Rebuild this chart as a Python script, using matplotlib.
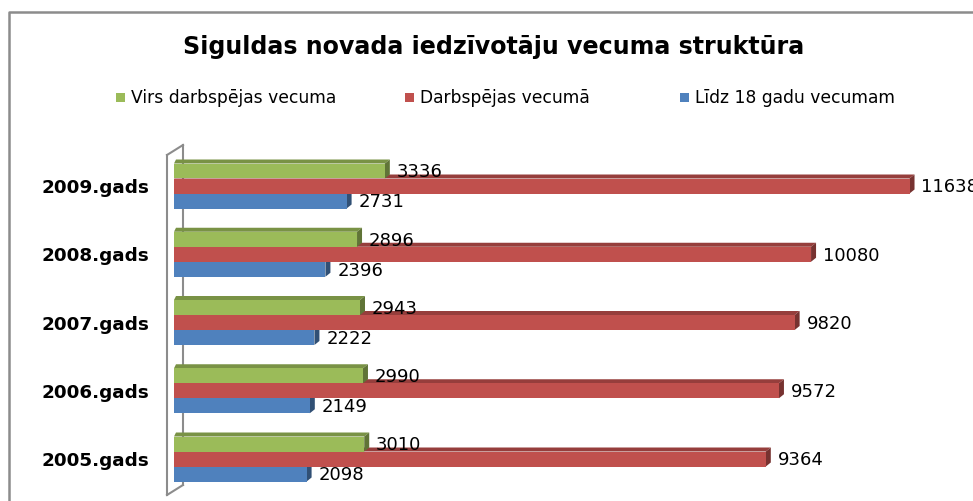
import matplotlib

matplotlib.use("Agg")
import matplotlib.pyplot as plt
import numpy as np
from matplotlib.patches import Polygon, Rectangle

# ── data ─────────────────────────────────────────────────────────────────────
years = ["2005.gads", "2006.gads", "2007.gads", "2008.gads", "2009.gads"]
virs_darbspejas = [3010, 2990, 2943, 2896, 3336]
darbspejas = [9364, 9572, 9820, 10080, 11638]
lidz_18 = [2098, 2149, 2222, 2396, 2731]

series_names = ["Virs darbspējas vecuma", "Darbspējas vecumā", "Līdz 18 gadu vecumam"]
series_colors = ["#9BBB59", "#C0504D", "#4F81BD"]

title = "Siguldas novada iedzīvotāju vecuma struktūra"

# ── layout (pixel based, figure is 973x501) ──────────────────────────────────
W, H = 973, 501
X0 = 174            # pixel where value 0 sits
PX_PER_UNIT = 0.0632
ROW_PX = 68.25      # distance between category centres
Y_REF = 459         # pixel y of first category centre
BAR_PX = 15
DX_PX, DY_PX = 5, 4

fig = plt.figure(figsize=(W / 100, H / 100), dpi=100)
fig.patch.set_facecolor("white")
renderer = fig.canvas.get_renderer()


def fit_width(txt, target_px):
    """Rescale a text's font size so its drawn width matches target_px."""
    w = txt.get_window_extent(renderer).width
    txt.set_fontsize(txt.get_fontsize() * target_px / w)


ax_top_px = 130
ax = fig.add_axes([X0 / W, 0, (W - X0) / W, (H - ax_top_px) / H])
ax.set_xlim(0, (W - X0) / PX_PER_UNIT)
ax.set_ylim((Y_REF - H) / ROW_PX, (Y_REF - ax_top_px) / ROW_PX)
for s in ax.spines.values():
    s.set_visible(False)
ax.set_xticks([])
ax.set_yticks([])
ax.patch.set_alpha(0)

bh = BAR_PX / ROW_PX
dx = DX_PX / PX_PER_UNIT
dy = DY_PX / ROW_PX


def shade(c, f):
    rgb = np.array(matplotlib.colors.to_rgb(c))
    return tuple(rgb * f)


def bar3d(y, w, color, z):
    y0, y1 = y - bh / 2, y + bh / 2
    front = Polygon([(0, y0), (w, y0), (w, y1), (0, y1)], closed=True,
                    facecolor=color, edgecolor="none", zorder=z)
    top = Polygon([(0, y1), (w, y1), (w + dx, y1 + dy), (dx * 0.4, y1 + dy)],
                  closed=True, facecolor=shade(color, 0.78), edgecolor="none", zorder=z)
    side = Polygon([(w, y0), (w + dx, y0 + dy), (w + dx, y1 + dy), (w, y1)],
                   closed=True, facecolor=shade(color, 0.62), edgecolor="none", zorder=z)
    for p in (top, side, front):
        ax.add_patch(p)
    ax.annotate(f"{w}", xy=(w + dx, y), xytext=(5, -1),
                textcoords="offset points", ha="left", va="center",
                fontsize=13, family="DejaVu Sans", color="black",
                zorder=z + 0.5, annotation_clip=False)


ypos = np.arange(len(years))
values = [virs_darbspejas, darbspejas, lidz_18]
offsets = [bh, 0, -bh]
for i in ypos:
    # draw bottom bar first so upper bars cover their top faces
    for k, z in ((2, 3), (1, 4), (0, 5)):
        bar3d(i + offsets[k], values[k][i], series_colors[k], z)

# ── decoration overlay in pixel coords ───────────────────────────────────────
ov = fig.add_axes([0, 0, 1, 1], zorder=-1)
ov.set_xlim(0, W)
ov.set_ylim(H, 0)
ov.axis("off")
ov.plot([8.5, 8.5, W + 5], [H + 5, 12, 12], color="#8c8c8c", lw=1.8)
wall_c = "#8c8c8c"
ov.plot([167, 167], [155, 495], color=wall_c, lw=1.5)
ov.plot([183, 183], [145, 485], color=wall_c, lw=1.5)
ov.plot([167, 183], [155, 145], color=wall_c, lw=1.5)
ov.plot([167, 183], [495, 485], color=wall_c, lw=1.5)

# category labels
lab_size = None
for i, yr in enumerate(years):
    t = ov.text(149, Y_REF - i * ROW_PX + 2, yr, ha="right", va="center",
                fontsize=11, fontweight="bold", family="DejaVu Sans")
    if lab_size is None:
        fit_width(t, 107)
        lab_size = t.get_fontsize()
    else:
        t.set_fontsize(lab_size)

t = ov.text(494, 47, title, ha="center", va="center", fontsize=17,
            fontweight="bold", family="DejaVu Sans")
fit_width(t, 622)

# legend
leg_x = [116, 405, 680]
leg_size = None
for name, col, lx in zip(series_names, series_colors, leg_x):
    ov.add_patch(Rectangle((lx, 93), 9, 9, facecolor=col, edgecolor="none"))
    ov.text(lx + 15, 97.5, name, ha="left", va="center", fontsize=12,
            family="DejaVu Sans")
leg_texts = ov.texts[-3:]
fit_width(leg_texts[2], 200)
for t in leg_texts[:2]:
    t.set_fontsize(leg_texts[2].get_fontsize())

fig.savefig("out.png", dpi=100)
